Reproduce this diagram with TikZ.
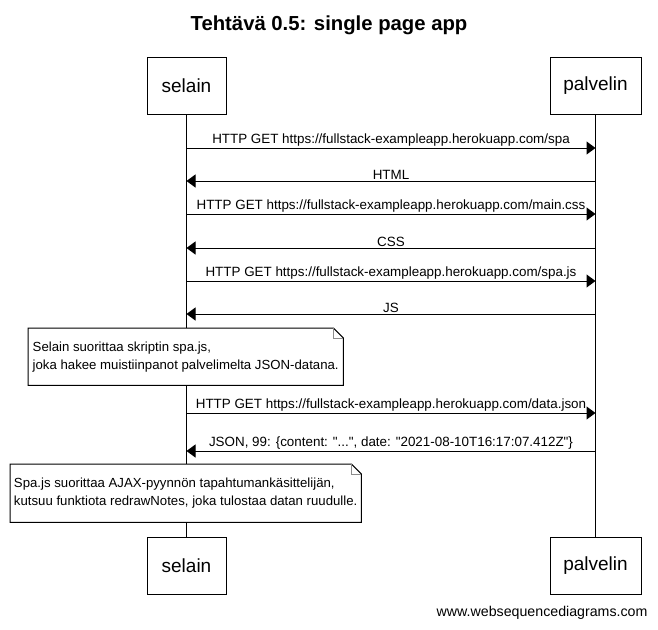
\documentclass[tikz,border=0pt]{standalone}
\usepackage{fontspec}
\setmainfont{Liberation Sans}[Ligatures=TeXOff]
\usetikzlibrary{arrows.meta,positioning}

\tikzset{
  actor/.style={draw, line width=1pt, minimum height=57pt, font=\fontsize{19}{22}\selectfont},
  lifeline/.style={line width=1pt},
  msg/.style={line width=1pt, -{Triangle[length=9pt,width=13pt]}},
  lbl/.style={above, inner sep=1pt, font=\fontsize{13.4}{15}\selectfont},
  notetxt/.style={anchor=north west, align=left, fill=white, inner sep=0pt, font=\fontsize{13.2}{18}\selectfont},
  fold/.style={draw=black!45, line width=1pt},
}

\begin{document}
\begin{tikzpicture}[x=1pt, y=-1pt]
\useasboundingbox (0,0) rectangle (658,629);
\node[font=\bfseries\fontsize{20.3}{24}\selectfont] (title) at (329,25) {Tehtävä 0.5: single page app};

\node[actor, minimum width=79pt] (st) at (186.5,85.5) {selain};
\node[actor, minimum width=91pt] (pt) at (595.5,85.5) {palvelin};
\node[actor, minimum width=79pt] (sb) at (186.5,565.5) {selain};
\node[actor, minimum width=91pt] (pb) at (595.5,565.5) {palvelin};

\draw[lifeline] (st) -- (sb);
\draw[lifeline] (pt) -- (pb);

% sivu, tyylit ja skripti
\draw[msg] (st |- 0,148) -- node[lbl] {HTTP GET https://fullstack-exampleapp.herokuapp.com/spa} (pt |- 0,148);
\draw[msg] (pt |- 0,181) -- node[lbl] {HTML} (st |- 0,181);
\draw[msg] (st |- 0,214) -- node[lbl] {HTTP GET https://fullstack-exampleapp.herokuapp.com/main.css} (pt |- 0,214);
\draw[msg] (pt |- 0,248) -- node[lbl] {CSS} (st |- 0,248);
\draw[msg] (st |- 0,281) -- node[lbl] {HTTP GET https://fullstack-exampleapp.herokuapp.com/spa.js} (pt |- 0,281);
\draw[msg] (pt |- 0,314) -- node[lbl] {JS} (st |- 0,314);

\node[notetxt, minimum width=315pt, minimum height=57pt] (n1) at (28,328) {Selain suorittaa skriptin spa.js,\\joka hakee muistiinpanot palvelimelta JSON-datana.};
\draw[line width=1pt] (n1.north west) -- ([xshift=-10pt]n1.north east) -- ([yshift=-10pt]n1.north east) -- (n1.south east) -- (n1.south west) -- cycle;
\draw[fold] ([xshift=-10pt]n1.north east) |- ([yshift=-10pt]n1.north east);

% data
\draw[msg] (st |- 0,413) -- node[lbl] {HTTP GET https://fullstack-exampleapp.herokuapp.com/data.json} (pt |- 0,413);
\draw[msg] (pt |- 0,451) -- node[lbl] {JSON, 99: \{content: "...", date: "2021-08-10T16:17:07.412Z"\}} (st |- 0,451);

\node[notetxt, minimum width=351pt, minimum height=58pt] (n2) at (10,464) {Spa.js suorittaa AJAX-pyynnön tapahtumankäsittelijän,\\kutsuu funktiota redrawNotes, joka tulostaa datan ruudulle.};
\draw[line width=1pt] (n2.north west) -- ([xshift=-10pt]n2.north east) -- ([yshift=-10pt]n2.north east) -- (n2.south east) -- (n2.south west) -- cycle;
\draw[fold] ([xshift=-10pt]n2.north east) |- ([yshift=-10pt]n2.north east);

\node[anchor=east, font=\fontsize{14.2}{16}\selectfont] (wsd) at (651,613) {www.websequencediagrams.com};
\end{tikzpicture}
\end{document}
